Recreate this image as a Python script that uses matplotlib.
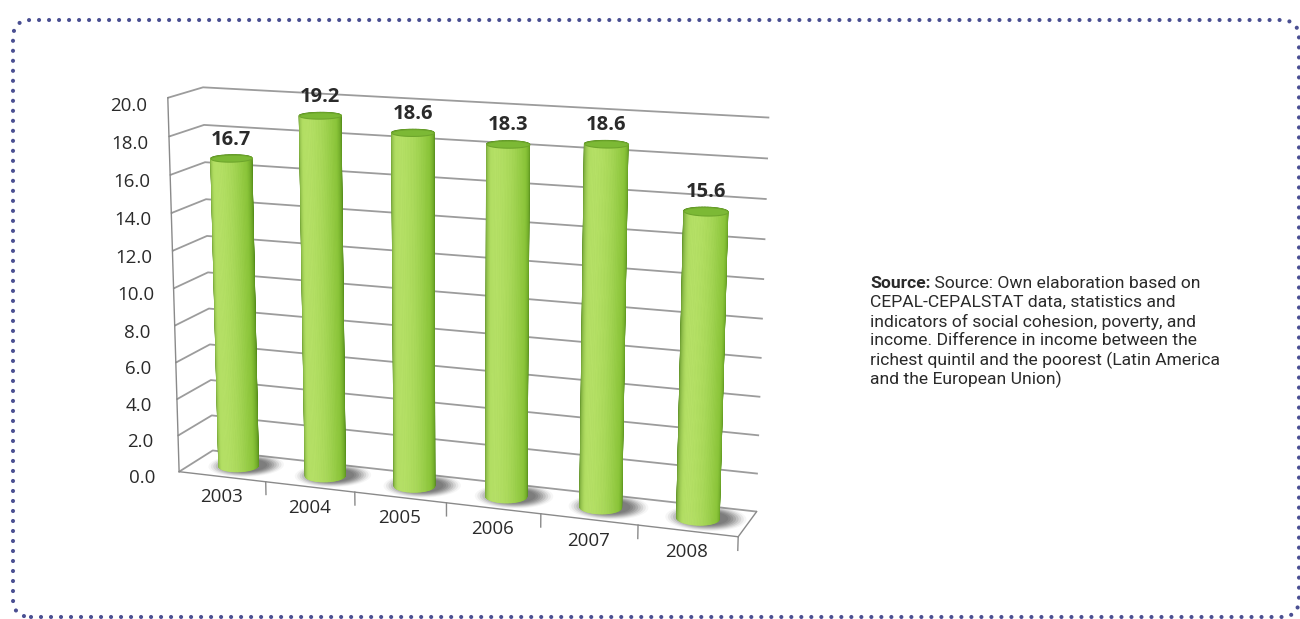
import numpy as np
import matplotlib.pyplot as plt
from matplotlib.patches import FancyBboxPatch
from matplotlib.transforms import IdentityTransform
from matplotlib.text import Annotation
from mpl_toolkits.mplot3d.art3d import Poly3DCollection

years = ["2003", "2004", "2005", "2006", "2007", "2008"]
values = [16.7, 19.2, 18.6, 18.3, 18.6, 15.6]
z_ticks = np.arange(0, 21, 2)

source_head = "Source:"
source_lines = [
    " Source: Own elaboration based on",
    "CEPAL-CEPALSTAT data, statistics and",
    "indicators of social cohesion, poverty, and",
    "income. Difference in income between the",
    "richest quintil and the poorest (Latin America",
    "and the European Union)",
]

ELEV, AZIM = 13.5, -70
BOX = (6.0, 0.8, 3.96)
RADIUS = 0.21          # bar radius in x units
GRID = "#9c9c9c"
TEXT = "#2a2a2a"
NUM_FONT = ["Open Sans", "DejaVu Sans"]
SRC_FONT = ["Roboto", "DejaVu Sans"]

fig = plt.figure(figsize=(13, 6.19), dpi=100)
fig.patch.set_facecolor("white")

# dotted rounded frame around the whole panel
frame = FancyBboxPatch((13, 2), 1286, 597, boxstyle="round,pad=0,rounding_size=18",
                       transform=IdentityTransform(), fill=False,
                       edgecolor="#4a4f92", linewidth=3.0, linestyle=(0, (0.001, 2.4)))
frame.set_capstyle("round")
fig.patches.append(frame)

ax = fig.add_axes([0.0776, -0.0705, 0.538, 1.131], projection="3d", computed_zorder=False)
ax.set_proj_type("persp", focal_length=0.6)
ax.view_init(elev=ELEV, azim=AZIM)
ax.set_xlim(-0.5, len(years) - 0.5)
ax.set_ylim(0, 1)
ax.set_zlim(0, 20)
ax.set_box_aspect(BOX, zoom=1.0)

for axis in (ax.xaxis, ax.yaxis, ax.zaxis):
    axis.set_pane_color((1, 1, 1, 0))
    axis.line.set_color("#8a8a8a")
    axis.line.set_linewidth(1.0)
    axis.label.set_visible(False)
    axis.offsetText.set_visible(False)
ax.grid(True)
ax.xaxis._axinfo["grid"].update(linewidth=0, color=(1, 1, 1, 0))
ax.yaxis._axinfo["grid"].update(linewidth=0, color=(1, 1, 1, 0))
ax.zaxis._axinfo["grid"].update(linewidth=1.3, color=GRID)
ax.xaxis._axinfo["tick"].update(inward_factor=0, outward_factor=0)
ax.zaxis._axinfo["tick"].update(inward_factor=0, outward_factor=0.25)
ax.zaxis.set_ticks_position("lower")

ax.set_xticks(range(len(years)), years)
ax.set_yticks([])
ax.set_zticks(z_ticks, [f"{t:.1f}" for t in z_ticks])
ax.tick_params(axis="x", labelsize=13.5, labelcolor=TEXT, pad=0)
ax.tick_params(axis="z", labelsize=13.5, labelcolor=TEXT, color="#8a8a8a", pad=10)
for lab in ax.get_xticklabels() + ax.get_zticklabels():
    lab.set_family(NUM_FONT)

# small tick marks between categories on the front floor edge
for xb in np.arange(0.5, len(years)):
    ax.plot([xb, xb], [0, 0], [0, -0.7], color="#8a8a8a", lw=1.0, zorder=1)

# cylinder shading
theta = np.linspace(0, 2 * np.pi, 91)
cam = np.array([np.cos(np.radians(AZIM)), np.sin(np.radians(AZIM))])
left = np.array([np.sin(np.radians(AZIM)), -np.cos(np.radians(AZIM))])
light = cam * 0.85 + left * 0.55
light /= np.linalg.norm(light)
dark = np.array([0.33, 0.55, 0.10])
mid = np.array([0.54, 0.77, 0.22])
hi = np.array([0.71, 0.88, 0.40])

ry_scale = BOX[0] / len(years) / BOX[1]
yc = 0.5
for i, v in enumerate(values):
    rx, ry = RADIUS, RADIUS * ry_scale

    # soft shadow on the floor
    for k, s in enumerate(np.linspace(1.9, 1.05, 8)):
        sx = i + 0.07 + rx * s * np.cos(theta)
        sy = yc + 0.05 + ry * s * np.sin(theta)
        ring = Poly3DCollection([list(zip(sx, sy, np.zeros_like(sx)))],
                                facecolor=(0.42, 0.42, 0.42, 0.06 + 0.045 * k),
                                edgecolor="none", zorder=1)
        ax.add_collection3d(ring)

    quads, colors = [], []
    for t0, t1 in zip(theta[:-1], theta[1:]):
        tm = 0.5 * (t0 + t1)
        n = np.array([np.cos(tm), np.sin(tm)])
        lit = max(0.0, float(n @ light)) ** 1.4
        rim = max(0.0, float(n @ cam))
        c = dark + (mid - dark) * min(1.0, rim * 1.6) + (hi - mid) * lit
        c = np.clip(c, 0, 1)
        p0 = (i + rx * np.cos(t0), yc + ry * np.sin(t0))
        p1 = (i + rx * np.cos(t1), yc + ry * np.sin(t1))
        quads.append([(p0[0], p0[1], 0), (p1[0], p1[1], 0),
                      (p1[0], p1[1], v), (p0[0], p0[1], v)])
        colors.append(c)
    side = Poly3DCollection(quads, facecolors=colors, edgecolors=colors,
                            linewidths=0.6, zorder=2)
    ax.add_collection3d(side)

    cx = i + rx * np.cos(theta)
    cy = yc + ry * np.sin(theta)
    cap = Poly3DCollection([list(zip(cx, cy, np.full_like(cx, v)))],
                           facecolor="#7cb935", edgecolor="#6ea62c",
                           linewidths=0.8, zorder=3)
    ax.add_collection3d(cap)

    ax.text(i, yc, v + 0.45, f"{v:.1f}", ha="center", va="bottom",
            fontsize=14.5, fontweight="bold", color=TEXT, family=NUM_FONT, zorder=5)

# source note on the right
FS = 12.6
x0, y0, dy = 870 / 1300, 1 - 283 / 619, 19.3 / 619
head = fig.text(x0, y0, source_head, fontsize=FS, fontweight="bold",
                color=TEXT, va="center", family=SRC_FONT)
fig.add_artist(Annotation(source_lines[0], xy=(1, 0), xycoords=head,
                          va="bottom", ha="left", fontsize=FS, color=TEXT,
                          family=SRC_FONT))
for k, line in enumerate(source_lines[1:], start=1):
    fig.text(x0, y0 - k * dy, line, fontsize=FS, color=TEXT, va="center",
             family=SRC_FONT)

fig.savefig("out.png", dpi=100, facecolor="white")
